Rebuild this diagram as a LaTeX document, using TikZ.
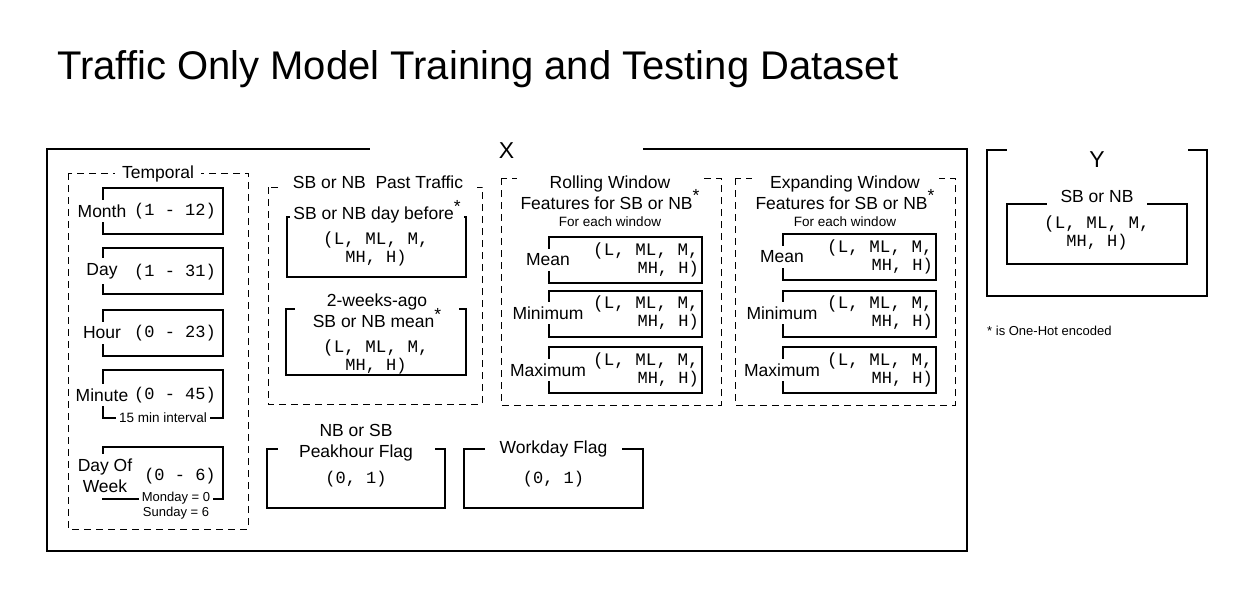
\documentclass[tikz,border=0pt]{standalone}
\usepackage{fontspec}
\setmainfont{Liberation Sans}
\setmonofont{Liberation Mono}
\usetikzlibrary{positioning}
\newcommand{\ohe}{\raisebox{0.42em}[0pt][0pt]{*}}
\newcommand{\lmh}{\fontsize{17.6}{18}\selectfont(L, ML, M,\\MH, H)}

\begin{document}
\begin{tikzpicture}[x=1pt,y=-1pt,
  frame/.style={draw=black,line width=2pt},
  dframe/.style={draw=black,line width=1pt,dash pattern=on 7pt off 5pt},
  lbl/.style={fill=white,inner xsep=3pt,inner ysep=5pt,align=center,font=\fontsize{17.5}{21}\selectfont},
  sml/.style={fill=white,inner xsep=3pt,inner ysep=1pt,align=center,font=\fontsize{13.5}{15}\selectfont},
  val/.style={inner sep=0pt,align=center,font=\ttfamily\fontsize{17}{18}\selectfont},
  big/.style={fill=white,inner sep=0pt,minimum height=24pt,font=\fontsize{23}{26}\selectfont}]
\useasboundingbox (0,0) rectangle (1247,592);
\node[anchor=base west,inner sep=0pt,font=\fontsize{40}{46}\selectfont] (title) at (57,79) {Traffic Only Model Training and Testing Dataset};

\draw[frame] (47,149) rectangle (967,551);
\node[big,minimum width=273pt] (xlab) at (506.5,150.5) {X};

\draw[frame] (987,150) rectangle (1207,296);
\node[big,minimum width=181pt] (ylab) at (1097,160) {Y};
\draw[frame] (1007,204) rectangle (1187,264);
\node[lbl,minimum width=100pt] (yhead) at (1097,196) {SB or NB};
\node[val] (yval) at (1097,233) {\lmh};
\node[anchor=west,inner sep=0pt,font=\fontsize{13}{15}\selectfont] (note) at (987,331) {* is One-Hot encoded};

\draw[dframe] (68,173) rectangle (248,529);
\node[lbl,inner xsep=7pt] (temporal) at (158,174) {Temporal};
\draw[frame] (103,188) rectangle (223,234);
\node[lbl] (month) at (102,211) {Month};
\node[val] (monthv) at (175,211) {(1 - 12)};
\draw[frame] (103,248) rectangle (223,294);
\node[lbl] (day) at (102,271) {Day};
\node[val] (dayv) at (175,272) {(1 - 31)};
\draw[frame] (103,310) rectangle (223,356);
\node[lbl] (hour) at (102,333) {Hour};
\node[val] (hourv) at (175,333) {(0 - 23)};
\draw[frame] (103,370) rectangle (223,418);
\node[lbl] (minute) at (102,395) {Minute};
\node[val] (minutev) at (175,395) {(0 - 45)};
\node[sml] (interval) at (163,418) {15 min interval};
\draw[frame] (103,447) rectangle (223,499);
\node[lbl] (dow) at (105,476) {Day Of\\Week};
\node[val] (dowv) at (180,476) {(0 - 6)};
\node[sml,font=\fontsize{13}{15}\selectfont] (dowkey) at (176,506) {Monday = 0\\Sunday = 6};

\draw[dframe] (268,187) rectangle (482,404);
\node[lbl,minimum width=197pt] (pasthd) at (378,182) {SB or NB\ \ Past Traffic};
\draw[frame] (287,217) rectangle (466,277);
\node[lbl,minimum width=166pt] (daybef) at (377,215) {SB or NB day before\ohe};
\node[val] (daybefv) at (376,249) {\lmh};
\draw[frame] (286,309) rectangle (466,375);
\node[lbl,minimum width=164pt] (twowk) at (377,311) {2-weeks-ago\\SB or NB mean\ohe};
\node[val] (twowkv) at (376,357) {\lmh};

\draw[dframe] (501,178) rectangle (721,405);
\node[lbl,minimum width=187pt] (rollhd) at (610,201) {Rolling Window\\Features for SB or NB\ohe\\[-4pt]{\fontsize{13.5}{15}\selectfont For each window}};
\draw[frame] (549,237) rectangle (702,283);
\node[lbl] (rmean) at (548,260) {Mean};
\node[val,align=right,anchor=east] (rmeanv) at (699,260) {\lmh};
\draw[frame] (549,291) rectangle (702,337);
\node[lbl] (rmin) at (548,313) {Minimum};
\node[val,align=right,anchor=east] (rminv) at (699,313) {\lmh};
\draw[frame] (549,347) rectangle (702,393);
\node[lbl] (rmax) at (548,370) {Maximum};
\node[val,align=right,anchor=east] (rmaxv) at (699,370) {\lmh};

\draw[dframe] (735,178) rectangle (955,405);
\node[lbl,minimum width=187pt] (exphd) at (845,201) {Expanding Window\\Features for SB or NB\ohe\\[-4pt]{\fontsize{13.5}{15}\selectfont For each window}};
\draw[frame] (783,234) rectangle (936,280);
\node[lbl] (emean) at (782,257) {Mean};
\node[val,align=right,anchor=east] (emeanv) at (933,257) {\lmh};
\draw[frame] (783,291) rectangle (936,337);
\node[lbl] (emin) at (782,313) {Minimum};
\node[val,align=right,anchor=east] (eminv) at (933,313) {\lmh};
\draw[frame] (783,347) rectangle (936,393);
\node[lbl] (emax) at (782,370) {Maximum};
\node[val,align=right,anchor=east] (emaxv) at (933,370) {\lmh};

\draw[frame] (267,449) rectangle (445,508);
\node[lbl,minimum width=157pt] (peak) at (356,443) {NB or SB\\Peakhour Flag};
\node[val] (peakv) at (356,479) {(0, 1)};
\draw[frame] (464,449) rectangle (643,508);
\node[lbl,minimum width=137pt] (work) at (553.5,449) {Workday Flag};
\node[val] (workv) at (553.5,479) {(0, 1)};
\end{tikzpicture}
\end{document}
